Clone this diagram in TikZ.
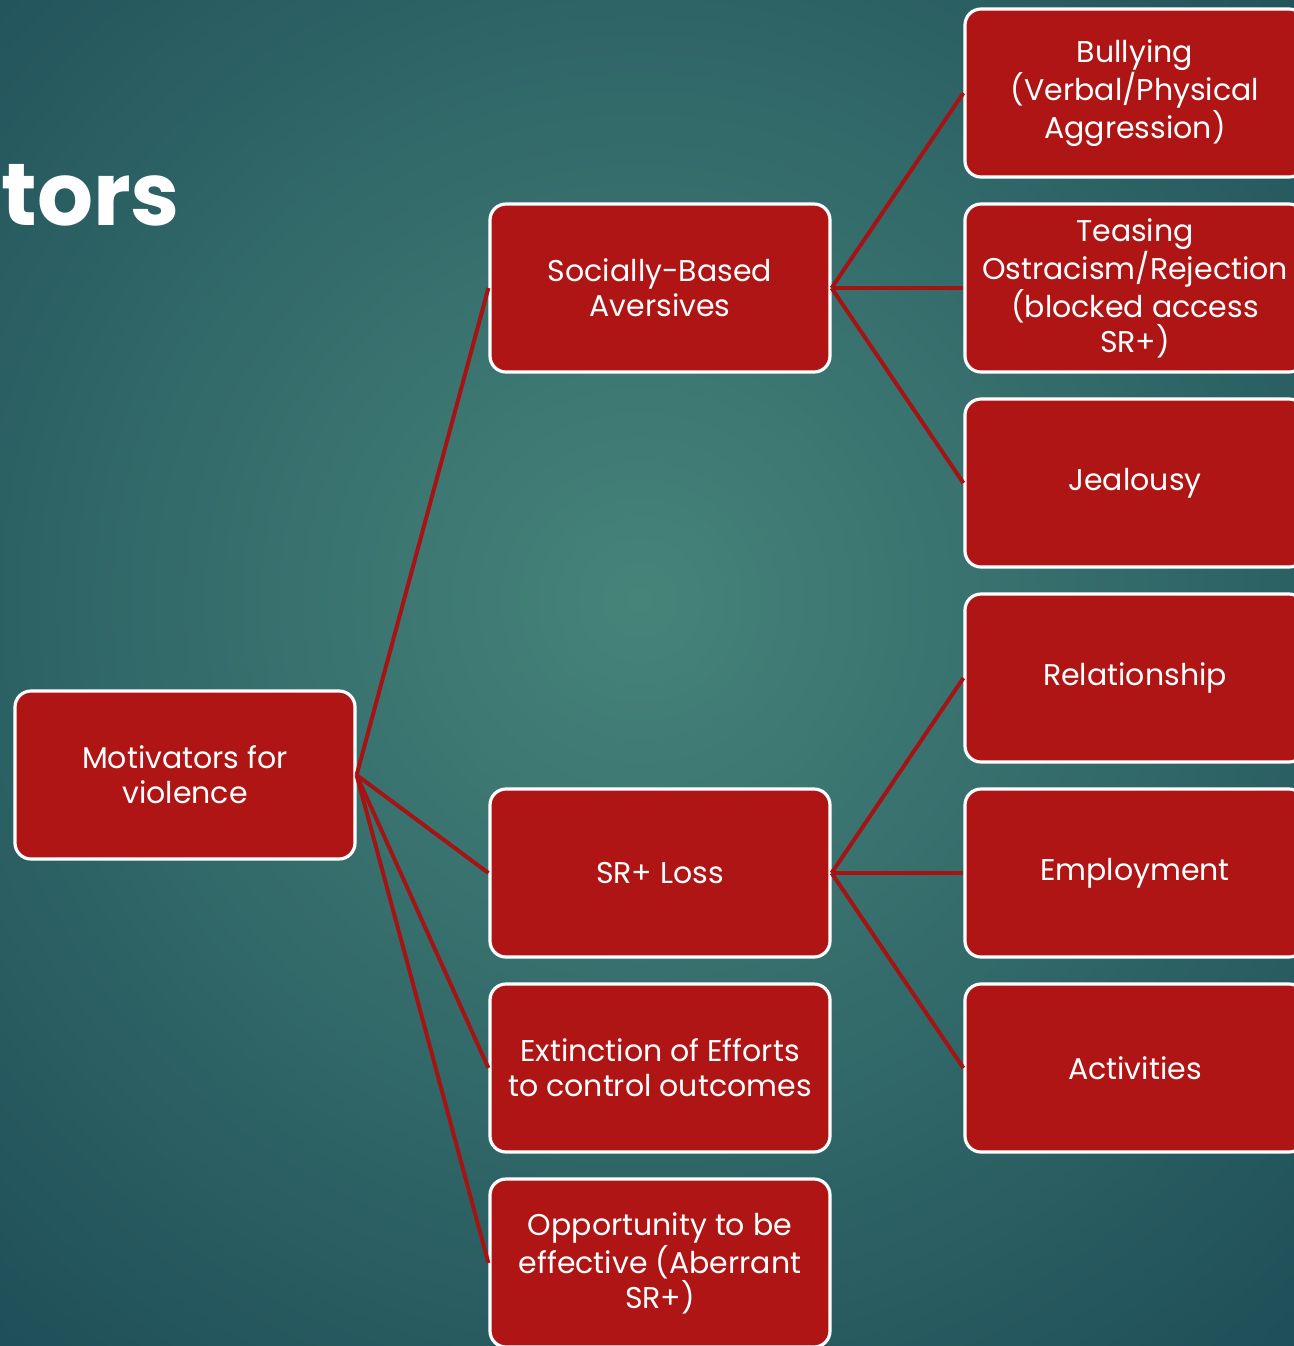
\documentclass[tikz,border=0pt]{standalone}
\usepackage{fontspec}
\setmainfont{Poppins}
\usetikzlibrary{positioning}
\definecolor{boxred}{HTML}{B01515}
\definecolor{linkred}{HTML}{A51414}
\definecolor{bginner}{HTML}{46847A}
\definecolor{bgouter}{HTML}{1E4E58}
\tikzset{
    x=0.5pt,y=-0.5pt,
    item/.style ={rectangle, rounded corners=8pt, draw=white, line width=1.6pt, fill=boxred,
        text=white, minimum width=170pt, minimum height=84pt, align=center,
        font=\fontsize{15}{17.5}\selectfont, inner sep=2pt},
    link/.style={draw=linkred, line width=2pt}
}
\begin{document}
\begin{tikzpicture}
    \useasboundingbox (0,0) rectangle (1294,1346);
    \begin{scope}
    \clip (0,0) rectangle (1294,1346);
    \shade[inner color=bginner, outer color=bgouter] (640,600) circle (1000);
    \end{scope}
    \node[anchor=base west, text=white, font=\fontsize{44}{50}\selectfont\bfseries, inner sep=0pt] (title) at (1,225) {tors};

    \node[item] (m) at (185,775) {Motivators for\\violence};
     \node[item] (sa) at (660,288) {Socially-Based\\Aversives};
     \node[item] (sl) at (660,873) {SR+ Loss};
     \node[item] (ex) at (660,1068) {Extinction of Efforts\\to control outcomes};
     \node[item] (op) at (660,1263) {Opportunity to be\\effective (Aberrant\\SR+)};
       \node[item] (bu) at (1135,93) {Bullying\\(Verbal/Physical\\Aggression)};
       \node[item] (te) at (1135,288) {Teasing\\Ostracism/Rejection\\(blocked access\\SR+)};
       \node[item] (je) at (1135,483) {Jealousy};
       \node[item] (re) at (1135,678) {Relationship};
       \node[item] (em) at (1135,873) {Employment};
       \node[item] (ac) at (1135,1068) {Activities};

      \path[link] (m.east) -- (sa.west);
      \path[link] (m.east) -- (sl.west);
      \path[link] (m.east) -- (ex.west);
      \path[link] (m.east) -- (op.west);
      \path[link] (sa.east) -- (bu.west);
      \path[link] (sa.east) -- (te.west);
      \path[link] (sa.east) -- (je.west);
      \path[link] (sl.east) -- (re.west);
      \path[link] (sl.east) -- (em.west);
      \path[link] (sl.east) -- (ac.west);
\end{tikzpicture}
\end{document}
